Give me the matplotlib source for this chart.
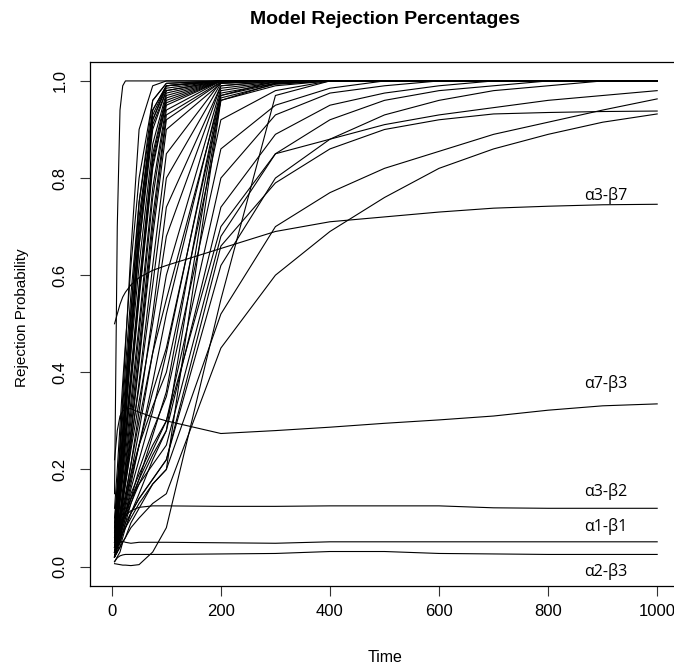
import matplotlib
matplotlib.use("Agg")
import matplotlib.pyplot as plt

# time grid of the simulation
time = [5, 10, 15, 20, 25, 35, 50, 75, 100, 200, 300, 400, 500, 600, 700, 800, 900, 1000]

# labelled series
a3_b7 = [0.50, 0.52, 0.54, 0.555, 0.565, 0.58, 0.595, 0.61, 0.62, 0.655, 0.69, 0.71, 0.72, 0.73, 0.738, 0.742, 0.745, 0.746]
a7_b3 = [0.22, 0.28, 0.31, 0.32, 0.325, 0.325, 0.318, 0.308, 0.30, 0.274, 0.28, 0.287, 0.295, 0.302, 0.31, 0.322, 0.331, 0.335]
a3_b2 = [0.04, 0.06, 0.08, 0.095, 0.105, 0.115, 0.122, 0.125, 0.125, 0.124, 0.124, 0.125, 0.125, 0.125, 0.121, 0.12, 0.12, 0.12]
a1_b1 = [0.03, 0.045, 0.05, 0.052, 0.05, 0.048, 0.05, 0.05, 0.05, 0.049, 0.048, 0.051, 0.051, 0.051, 0.051, 0.051, 0.051, 0.051]
a2_b3 = [0.01, 0.018, 0.022, 0.024, 0.025, 0.025, 0.025, 0.025, 0.025, 0.026, 0.027, 0.031, 0.031, 0.027, 0.026, 0.025, 0.025, 0.025]
labels = ["α3-β7", "α7-β3", "α3-β2", "α1-β1", "α2-β3"]
label_y = [0.765, 0.377, 0.155, 0.082, -0.01]

# other model combinations
slow_start = [0.006, 0.005, 0.004, 0.003, 0.003, 0.002, 0.004, 0.03, 0.08, 0.55, 0.97, 1, 1, 1, 1, 1, 1, 1]
very_fast = [0.15, 0.70, 0.94, 0.99, 1.0, 1, 1, 1, 1, 1, 1, 1, 1, 1, 1, 1, 1, 1]

fast_group = [
    [0.08, 0.15, 0.25, 0.35, 0.45, 0.65, 0.90, 0.99, 1.0, 1, 1, 1, 1, 1, 1, 1, 1, 1],
    [0.06, 0.12, 0.20, 0.28, 0.36, 0.52, 0.75, 0.96, 0.995, 1, 1, 1, 1, 1, 1, 1, 1, 1],
    [0.05, 0.10, 0.15, 0.22, 0.30, 0.45, 0.66, 0.92, 0.99, 1, 1, 1, 1, 1, 1, 1, 1, 1],
    [0.07, 0.13, 0.18, 0.25, 0.32, 0.47, 0.70, 0.94, 0.99, 1, 1, 1, 1, 1, 1, 1, 1, 1],
]

cluster_group = [
    [0.05, 0.10, 0.16, 0.22, 0.28, 0.40, 0.58, 0.85, 0.97, 1, 1, 1, 1, 1, 1, 1, 1, 1],
    [0.04, 0.08, 0.13, 0.18, 0.23, 0.34, 0.50, 0.78, 0.95, 1, 1, 1, 1, 1, 1, 1, 1, 1],
    [0.06, 0.12, 0.19, 0.26, 0.33, 0.47, 0.66, 0.90, 0.98, 1, 1, 1, 1, 1, 1, 1, 1, 1],
    [0.03, 0.07, 0.11, 0.15, 0.20, 0.30, 0.45, 0.72, 0.93, 0.998, 1, 1, 1, 1, 1, 1, 1, 1],
    [0.08, 0.14, 0.21, 0.28, 0.35, 0.50, 0.70, 0.92, 0.985, 1, 1, 1, 1, 1, 1, 1, 1, 1],
    [0.05, 0.09, 0.14, 0.19, 0.25, 0.37, 0.55, 0.82, 0.96, 1, 1, 1, 1, 1, 1, 1, 1, 1],
    [0.10, 0.17, 0.25, 0.33, 0.41, 0.56, 0.75, 0.94, 0.99, 1, 1, 1, 1, 1, 1, 1, 1, 1],
    [0.04, 0.07, 0.11, 0.16, 0.21, 0.32, 0.48, 0.76, 0.94, 1, 1, 1, 1, 1, 1, 1, 1, 1],
    [0.07, 0.13, 0.20, 0.27, 0.34, 0.48, 0.68, 0.91, 0.98, 1, 1, 1, 1, 1, 1, 1, 1, 1],
    [0.03, 0.06, 0.10, 0.14, 0.19, 0.28, 0.43, 0.70, 0.92, 0.997, 1, 1, 1, 1, 1, 1, 1, 1],
    [0.12, 0.20, 0.29, 0.38, 0.46, 0.62, 0.80, 0.96, 0.995, 1, 1, 1, 1, 1, 1, 1, 1, 1],
    [0.05, 0.11, 0.17, 0.24, 0.31, 0.44, 0.62, 0.87, 0.975, 1, 1, 1, 1, 1, 1, 1, 1, 1],
    [0.06, 0.10, 0.15, 0.21, 0.27, 0.39, 0.57, 0.84, 0.965, 1, 1, 1, 1, 1, 1, 1, 1, 1],
    [0.02, 0.05, 0.09, 0.13, 0.18, 0.27, 0.42, 0.68, 0.90, 0.995, 1, 1, 1, 1, 1, 1, 1, 1],
    [0.09, 0.16, 0.23, 0.31, 0.38, 0.53, 0.72, 0.93, 0.99, 1, 1, 1, 1, 1, 1, 1, 1, 1],
    [0.04, 0.09, 0.14, 0.20, 0.26, 0.38, 0.56, 0.83, 0.955, 1, 1, 1, 1, 1, 1, 1, 1, 1],
]

medium_group = [
    [0.03, 0.06, 0.09, 0.13, 0.17, 0.25, 0.38, 0.62, 0.85, 0.998, 1, 1, 1, 1, 1, 1, 1, 1],
    [0.04, 0.07, 0.10, 0.14, 0.18, 0.26, 0.37, 0.58, 0.80, 0.995, 1, 1, 1, 1, 1, 1, 1, 1],
    [0.02, 0.05, 0.08, 0.11, 0.14, 0.21, 0.32, 0.52, 0.74, 0.99, 1, 1, 1, 1, 1, 1, 1, 1],
    [0.05, 0.08, 0.11, 0.14, 0.17, 0.24, 0.34, 0.50, 0.68, 0.99, 0.999, 1, 1, 1, 1, 1, 1, 1],
    [0.03, 0.05, 0.07, 0.10, 0.13, 0.19, 0.28, 0.44, 0.60, 0.985, 0.998, 1, 1, 1, 1, 1, 1, 1],
    [0.02, 0.04, 0.06, 0.09, 0.12, 0.17, 0.25, 0.38, 0.52, 0.98, 0.997, 1, 1, 1, 1, 1, 1, 1],
    [0.03, 0.05, 0.07, 0.09, 0.11, 0.16, 0.22, 0.32, 0.44, 0.975, 0.995, 1, 1, 1, 1, 1, 1, 1],
    [0.02, 0.04, 0.05, 0.07, 0.09, 0.13, 0.18, 0.27, 0.36, 0.97, 0.995, 1, 1, 1, 1, 1, 1, 1],
    [0.02, 0.03, 0.04, 0.06, 0.08, 0.11, 0.15, 0.22, 0.28, 0.965, 0.993, 1, 1, 1, 1, 1, 1, 1],
    [0.01, 0.02, 0.03, 0.05, 0.06, 0.09, 0.12, 0.17, 0.20, 0.96, 0.99, 1, 1, 1, 1, 1, 1, 1],
]

late_group = [
    [0.04, 0.06, 0.09, 0.12, 0.15, 0.21, 0.30, 0.44, 0.55, 0.97, 1.0, 1, 1, 1, 1, 1, 1, 1],
    [0.03, 0.05, 0.08, 0.10, 0.13, 0.18, 0.25, 0.36, 0.45, 0.96, 0.995, 1, 1, 1, 1, 1, 1, 1],
    [0.05, 0.07, 0.09, 0.12, 0.14, 0.19, 0.25, 0.33, 0.40, 0.92, 0.98, 1, 1, 1, 1, 1, 1, 1],
    [0.02, 0.04, 0.06, 0.08, 0.10, 0.14, 0.20, 0.28, 0.35, 0.86, 0.95, 0.985, 1, 1, 1, 1, 1, 1],
    [0.03, 0.05, 0.07, 0.09, 0.11, 0.15, 0.19, 0.25, 0.30, 0.80, 0.93, 0.975, 0.99, 1, 1, 1, 1, 1],
    [0.02, 0.04, 0.06, 0.08, 0.10, 0.13, 0.17, 0.23, 0.28, 0.74, 0.89, 0.95, 0.975, 0.99, 1, 1, 1, 1],
    [0.04, 0.06, 0.08, 0.10, 0.11, 0.14, 0.17, 0.21, 0.25, 0.68, 0.85, 0.92, 0.96, 0.98, 0.99, 1, 1, 1],
    [0.02, 0.03, 0.05, 0.07, 0.08, 0.11, 0.14, 0.18, 0.22, 0.62, 0.80, 0.88, 0.93, 0.96, 0.98, 0.99, 1, 1],
]

slow_group = [
    [0.03, 0.05, 0.07, 0.09, 0.11, 0.14, 0.18, 0.24, 0.30, 0.70, 0.85, 0.88, 0.91, 0.93, 0.945, 0.96, 0.97, 0.98],
    [0.02, 0.04, 0.05, 0.07, 0.08, 0.10, 0.13, 0.17, 0.20, 0.52, 0.70, 0.77, 0.82, 0.855, 0.89, 0.915, 0.94, 0.963],
    [0.03, 0.04, 0.06, 0.07, 0.09, 0.11, 0.14, 0.18, 0.22, 0.66, 0.79, 0.86, 0.90, 0.92, 0.932, 0.935, 0.937, 0.938],
    [0.02, 0.03, 0.04, 0.05, 0.06, 0.08, 0.10, 0.13, 0.15, 0.45, 0.60, 0.69, 0.76, 0.82, 0.86, 0.89, 0.915, 0.932],
]

x_ticks = [0, 200, 400, 600, 800, 1000]
y_ticks = [0.0, 0.2, 0.4, 0.6, 0.8, 1.0]

plt.rcParams['font.family'] = ['Liberation Sans', 'DejaVu Sans']

fig = plt.figure(figsize=(6.74, 6.71), dpi=100)
ax = fig.add_axes([90 / 674, 85 / 671, 589 / 674, 524.5 / 671])

all_series = [a3_b7, a7_b3, a3_b2, a1_b1, a2_b3, slow_start, very_fast] + fast_group + cluster_group + medium_group + late_group + slow_group
for s in all_series:
    ax.plot(time, s, color='black', lw=0.8)

for lab, yv in zip(labels, label_y):
    ax.text(866, yv, lab, fontsize=11.5, family=['Open Sans', 'DejaVu Sans'], va='center', ha='left')

ax.set_xlim(-40, 1040)
ax.set_ylim(-0.04, 1.04)
ax.set_xticks(x_ticks)
ax.set_xticklabels([str(v) for v in x_ticks])
ax.set_yticks(y_ticks)
ax.set_yticklabels([f"{v:.1f}" for v in y_ticks], rotation=90, va='center')
ax.tick_params(direction='out', length=7, width=0.8, labelsize=12, color='#333333')
ax.tick_params(axis='x', pad=6)
ax.tick_params(axis='y', pad=9)
for sp in ax.spines.values():
    sp.set_linewidth(0.9)

fig.text(385 / 674, 1 - 20 / 671, "Model Rejection Percentages", ha='center', va='center', fontsize=14, fontweight='bold')
fig.text(385 / 674, 1 - 658 / 671, "Time", ha='center', va='center', fontsize=11.5)
fig.text(22 / 674, 1 - 318 / 671, "Rejection Probability", ha='center', va='center', rotation=90, fontsize=11)

fig.savefig("out.png", dpi=100)
